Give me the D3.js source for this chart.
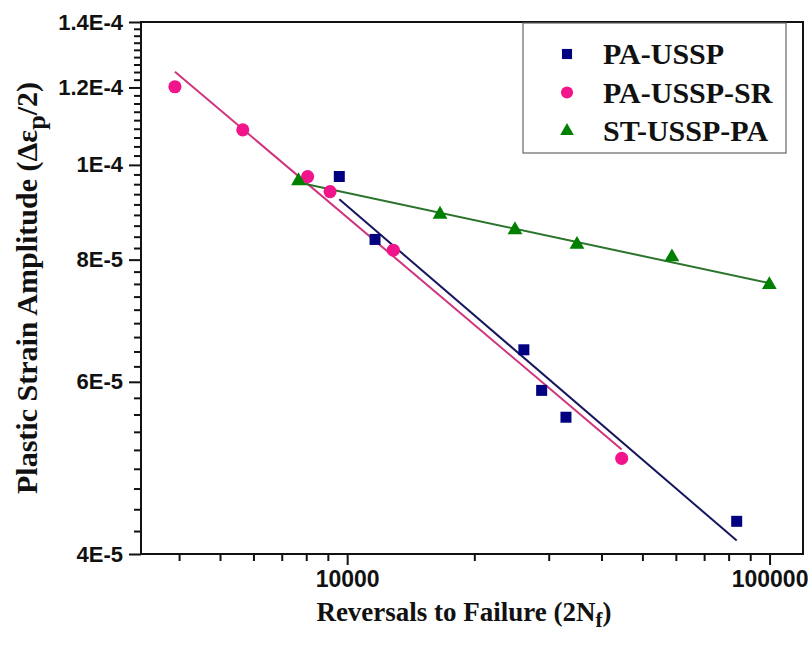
<!DOCTYPE html>
<html>
<head>
<meta charset="utf-8">
<script src="https://cdn.jsdelivr.net/npm/d3@7"></script>
<style>
  body { margin: 0; background: #fff; }
  svg { display: block; }
</style>
</head>
<body>
<svg id="chart" width="809" height="646"></svg>
<script>
// values
const seriesNames = ['PA-USSP', 'PA-USSP-SR', 'ST-USSP-PA']
const paUsspX = [9580, 11640, 26200, 28870, 32960, 83600]
const paUsspY = [9.73e-5, 8.39e-5, 6.47e-5, 5.88e-5, 5.52e-5, 4.32e-5]
const paUsspSrX = [3910, 5660, 8060, 9110, 12860, 44660]
const paUsspSrY = [1.202e-4, 1.086e-4, 9.73e-5, 9.39e-5, 8.18e-5, 5.01e-5]
const stUsspPaX = [7670, 16590, 24960, 35000, 58730, 99870]
const stUsspPaY = [9.63e-5, 8.90e-5, 8.58e-5, 8.29e-5, 8.05e-5, 7.54e-5]

const xMajorTicks = [10000, 100000]
const xMinorTicks = [4000, 5000, 6000, 7000, 8000, 9000, 20000, 30000, 40000, 50000, 60000, 70000, 80000, 90000]
const yMajorTicks = [4e-5, 6e-5, 8e-5, 1e-4, 1.2e-4, 1.4e-4]
const yTickLabels = ['4E-5', '6E-5', '8E-5', '1E-4', '1.2E-4', '1.4E-4']

const COLORS = {
  'PA-USSP': { fill: '#000080', line: '#16165e', shape: d3.symbolSquare, size: 121 },
  'PA-USSP-SR': { fill: '#f2148a', line: '#d0337c', shape: d3.symbolCircle, size: 135 },
  'ST-USSP-PA': { fill: '#008000', line: '#2b742b', shape: d3.symbolTriangle, size: 95 }
}

const plot = { left: 141, right: 803, top: 22, bottom: 554 }

const svg = d3.select('#chart')

const x = d3.scaleLog().domain([3250, 120000]).range([plot.left, plot.right])
const y = d3.scaleLog().domain([4e-5, 1.4e-4]).range([plot.bottom, plot.top])

// y minor ticks: 8 between each pair of majors
const yMinorTicks = []
for (let i = 0; i < yMajorTicks.length - 1; i++) {
  const step = (yMajorTicks[i + 1] - yMajorTicks[i]) / 9
  for (let k = 1; k < 9; k++) yMinorTicks.push(yMajorTicks[i] + k * step)
}

const series = [
  { name: seriesNames[0], xs: paUsspX, ys: paUsspY },
  { name: seriesNames[1], xs: paUsspSrX, ys: paUsspSrY },
  { name: seriesNames[2], xs: stUsspPaX, ys: stUsspPaY }
].map(s => ({ ...s, points: s.xs.map((v, i) => [v, s.ys[i]]) }))

// least squares fit in log-log space
function fit(points) {
  const lx = points.map(p => Math.log10(p[0]))
  const ly = points.map(p => Math.log10(p[1]))
  const mx = d3.mean(lx), my = d3.mean(ly)
  const b = d3.sum(lx, (v, i) => (v - mx) * (ly[i] - my)) / d3.sum(lx, v => (v - mx) ** 2)
  const a = my - b * mx
  const [x0, x1] = d3.extent(points, p => p[0])
  return [x0, x1].map(v => [v, Math.pow(10, a + b * Math.log10(v))])
}

// axes
const tickFont = '"Liberation Sans", Arial, sans-serif'

const gxMinor = svg.append('g')
  .attr('transform', `translate(0,${plot.bottom})`)
  .call(d3.axisBottom(x).tickValues(xMinorTicks).tickSize(7).tickFormat(''))
const gx = svg.append('g')
  .attr('transform', `translate(0,${plot.bottom})`)
  .call(d3.axisBottom(x).tickValues(xMajorTicks).tickSize(11).tickPadding(6).tickFormat(d3.format('d')))
const gyMinor = svg.append('g')
  .attr('transform', `translate(${plot.left},0)`)
  .call(d3.axisLeft(y).tickValues(yMinorTicks).tickSize(7).tickFormat(''))
const gy = svg.append('g')
  .attr('transform', `translate(${plot.left},0)`)
  .call(d3.axisLeft(y).tickValues(yMajorTicks).tickSize(12).tickPadding(6)
    .tickFormat((d, i) => yTickLabels[i]))

;[gxMinor, gx, gyMinor, gy].forEach(g => {
  g.select('.domain').remove()
  g.selectAll('line').attr('stroke', '#111').attr('stroke-width', 2)
  g.selectAll('text')
    .attr('fill', '#111')
    .style('font-family', tickFont)
    .style('font-weight', 'bold')
})
gx.selectAll('text').style('font-size', '23px')
gy.selectAll('text').style('font-size', '22px')

// frame
svg.append('rect')
  .attr('x', plot.left)
  .attr('y', plot.top)
  .attr('width', plot.right - plot.left)
  .attr('height', plot.bottom - plot.top)
  .attr('fill', 'none')
  .attr('stroke', '#111')
  .attr('stroke-width', 2)

// fit lines
const line = d3.line().x(d => x(d[0])).y(d => y(d[1]))
svg.append('g')
  .selectAll('path')
  .data(series)
  .join('path')
  .attr('d', s => line(fit(s.points)))
  .attr('fill', 'none')
  .attr('stroke', s => COLORS[s.name].line)
  .attr('stroke-width', 2)

// markers
const markers = svg.append('g')
series.forEach(s => {
  const c = COLORS[s.name]
  markers.append('g')
    .selectAll('path')
    .data(s.points)
    .join('path')
    .attr('transform', d => `translate(${x(d[0])},${y(d[1])})`)
    .attr('d', d3.symbol().type(c.shape).size(c.size))
    .attr('fill', c.fill)
})

// legend
const legend = svg.append('g')
legend.append('rect')
  .attr('x', 523).attr('y', 23)
  .attr('width', 263).attr('height', 130)
  .attr('fill', '#fff')
  .attr('stroke', '#666')
  .attr('stroke-width', 1.2)
const legendRow = d3.scaleLinear().domain([0, 2]).range([54, 131])
seriesNames.forEach((name, i) => {
  const c = COLORS[name]
  legend.append('path')
    .attr('transform', `translate(567,${legendRow(i)})`)
    .attr('d', d3.symbol().type(c.shape).size(c.size * 0.85))
    .attr('fill', c.fill)
  legend.append('text')
    .attr('x', 603)
    .attr('y', legendRow(i) + 10)
    .text(name)
    .style('font-family', '"Liberation Serif", "Times New Roman", serif')
    .style('font-weight', 'bold')
    .style('font-size', '30px')
    .attr('fill', '#111')
})

// axis titles
const titleFont = '"Liberation Serif", "Times New Roman", serif'
const xTitle = svg.append('text')
  .attr('x', 464)
  .attr('y', 621)
  .attr('text-anchor', 'middle')
  .style('font-family', titleFont)
  .style('font-weight', 'bold')
  .style('font-size', '27px')
  .attr('fill', '#111')
xTitle.append('tspan').text('Reversals to Failure (2N')
xTitle.append('tspan').text('f').attr('dy', 6).style('font-size', '21px')
xTitle.append('tspan').text(')').attr('dy', -6)

const yTitle = svg.append('text')
  .attr('transform', 'translate(37,288) rotate(-90)')
  .attr('text-anchor', 'middle')
  .style('font-family', titleFont)
  .style('font-weight', 'bold')
  .style('font-size', '30px')
  .attr('fill', '#111')
yTitle.append('tspan').text('Plastic Strain Amplitude (\u0394\u03b5')
yTitle.append('tspan').text('p').attr('dy', 8).style('font-size', '26px')
yTitle.append('tspan').text('/2)').attr('dy', -8)
</script>
</body>
</html>
